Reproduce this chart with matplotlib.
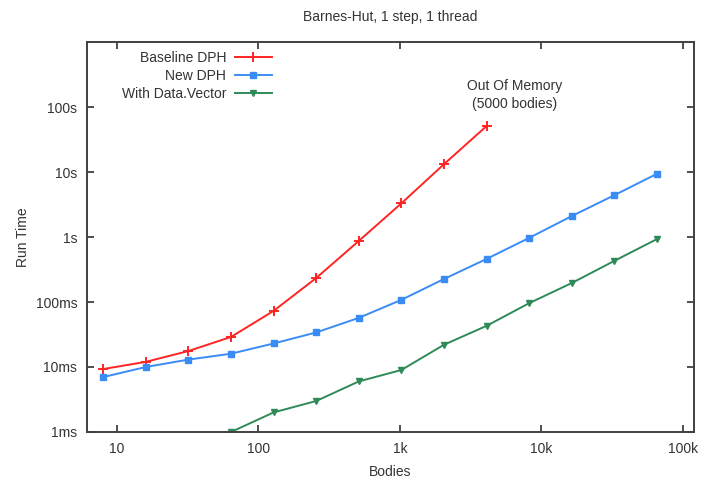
import numpy as np
import matplotlib
matplotlib.use('Agg')
import matplotlib.pyplot as plt
from matplotlib.ticker import FixedLocator, FixedFormatter, NullLocator

# bodies and run times (seconds)
bodies_base = [8, 16, 32, 64, 128, 256, 512, 1024, 2048, 4096]
time_base = [0.0093, 0.012, 0.0176, 0.029, 0.073, 0.234, 0.87, 3.3, 13.2, 51]

bodies_new = [8, 16, 32, 64, 128, 256, 512, 1024, 2048, 4096, 8192, 16384, 32768, 65536]
time_new = [0.007, 0.010, 0.013, 0.016, 0.023, 0.034, 0.057, 0.108, 0.226, 0.46,
            0.97, 2.1, 4.4, 9.4]

bodies_vec = [64, 128, 256, 512, 1024, 2048, 4096, 8192, 16384, 32768, 65536]
time_vec = [0.001, 0.002, 0.003, 0.006, 0.009, 0.022, 0.043, 0.096, 0.196, 0.43, 0.93]

xticks = [10, 100, 1000, 10000, 100000]
xlabels = ['10', '100', '1k', '10k', '100k']
yticks = [1e-3, 1e-2, 1e-1, 1, 10, 100]
ylabels = ['1ms', '10ms', '100ms', '1s', '10s', '100s']

plt.rcParams['font.family'] = ['Liberation Sans', 'DejaVu Sans']
txt = '#333333'
fs = 10

fig = plt.figure(figsize=(7.01, 4.83), dpi=100)
ax = fig.add_axes([0.124, 0.1056, 0.866, 0.8074])

ax.plot(bodies_base, time_base, color='#ff2424', lw=1.4, marker='+', ms=7, mew=1.4,
        label='Baseline DPH')
ax.plot(bodies_new, time_new, color='#3a8cf5', lw=1.4, marker='s', ms=4.5,
        label='New DPH')
ax.plot(bodies_vec, time_vec, color='#2e8b57', lw=1.4, marker='v', ms=5,
        label='With Data.Vector')

ax.set_xscale('log')
ax.set_yscale('log')
ax.set_xlim(6.14, 119600)
ax.set_ylim(1e-3, 1000)
ax.xaxis.set_major_locator(FixedLocator(xticks))
ax.xaxis.set_major_formatter(FixedFormatter(xlabels))
ax.yaxis.set_major_locator(FixedLocator(yticks))
ax.yaxis.set_major_formatter(FixedFormatter(ylabels))
ax.xaxis.set_minor_locator(NullLocator())
ax.yaxis.set_minor_locator(NullLocator())
ax.tick_params(which='major', direction='in', length=5, width=1.3, color='#404040',
               top=True, right=True, labelsize=fs, labelcolor=txt, pad=7)
for s in ax.spines.values():
    s.set_color('#404040')
    s.set_linewidth(1.4)

ax.set_xlabel('Bodies', fontsize=fs, color=txt, labelpad=7)
ax.set_ylabel('Run Time', fontsize=fs, color=txt, labelpad=4)
ax.set_title('Barnes-Hut, 1 step, 1 thread', fontsize=fs, color=txt, pad=15)

ax.text(515, 483 - 95, 'Out Of Memory\n(5000 bodies)', transform=None, ha='center',
        va='center', fontsize=fs, color=txt, linespacing=1.3)

leg = ax.legend(loc='upper right', bbox_to_anchor=(0.305, 0.977), markerfirst=False,
                frameon=False, fontsize=fs, handlelength=2.7, labelspacing=0.3,
                borderaxespad=0.0, handletextpad=0.6, borderpad=0.0)
for t in leg.get_texts():
    t.set_color(txt)

fig.savefig('out.png', dpi=100)
